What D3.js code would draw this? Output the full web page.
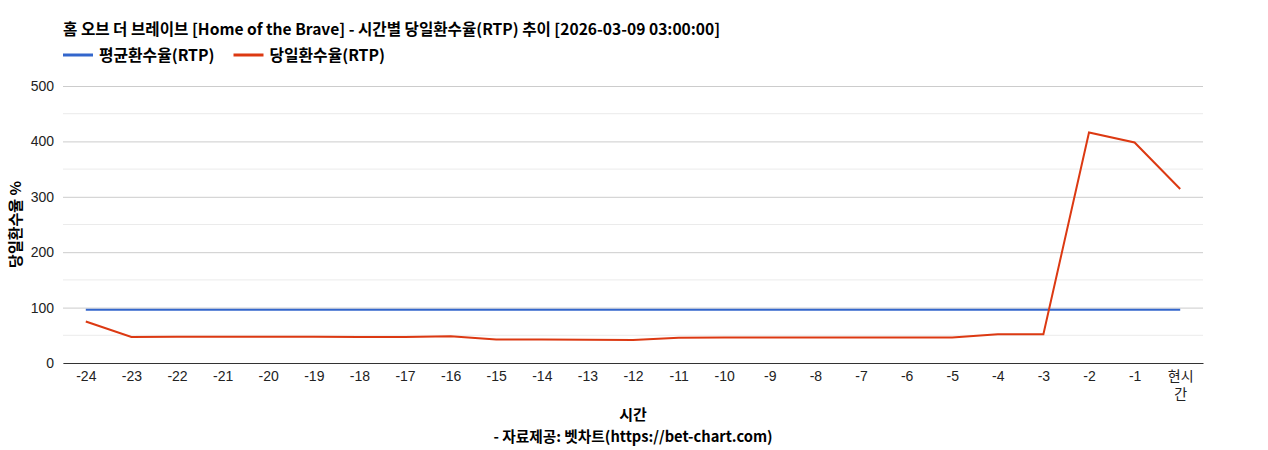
<!DOCTYPE html>
<html>
<head>
<meta charset="utf-8">
<script src="https://cdn.jsdelivr.net/npm/d3@7"></script>
<style>
  body { margin: 0; background: #fff; }
  svg text { font-family: "Liberation Sans", Arial, "Noto Sans CJK KR", sans-serif; }
  svg text.kr { font-family: "Noto Sans CJK KR", sans-serif; font-weight: bold; font-size: 15px; }
</style>
</head>
<body>
<div id="chart"></div>
<script>
const hours = ["-24","-23","-22","-21","-20","-19","-18","-17","-16","-15","-14","-13",
  "-12","-11","-10","-9","-8","-7","-6","-5","-4","-3","-2","-1","현시간"];
const avgRtp = [96,96,96,96,96,96,96,96,96,96,96,96,96,96,96,96,96,96,96,96,96,96,96,96,96];
const dayRtp = [75,47,47.5,47.5,47.5,47.5,47,47,48.5,42.5,42.5,42,41.5,45.5,46,46,46,46,46,46,52,52,416,398,314];
const yTicks = [0,100,200,300,400,500];
const seriesNames = ["평균환수율(RTP)", "당일환수율(RTP)"];
const colors = ["#3366cc", "#dc3912"];

const W = 1268, H = 450;
const margin = { top: 86, right: 65, bottom: 87, left: 63 };
const width = W - margin.left - margin.right;
const height = H - margin.top - margin.bottom;

const svg = d3.select("#chart").append("svg").attr("width", W).attr("height", H);

svg.append("text").attr("class", "kr")
  .attr("x", 63).attr("y", 35).style("font-size", "15.6px")
  .text("홈 오브 더 브레이브 [Home of the Brave] - 시간별 당일환수율(RTP) 추이 [2026-03-09 03:00:00]");

// legend
const legend = svg.append("g").attr("transform", "translate(63,55)");
let lx = 0;
seriesNames.forEach((name, i) => {
  const g = legend.append("g").attr("transform", `translate(${lx},0)`);
  g.append("line").attr("x1", 0).attr("x2", 30).attr("y1", 0).attr("y2", 0)
    .attr("stroke", colors[i]).attr("stroke-width", 3);
  const t = g.append("text").attr("class", "kr").attr("x", 36).attr("y", 5.5)
    .style("font-size", "15.8px").text(name);
  lx += 36 + t.node().getComputedTextLength() + 19;
});

const chart = svg.append("g").attr("transform", `translate(${margin.left},${margin.top})`);

const x = d3.scalePoint().domain(hours).range([0, width]).padding(0.5);
const y = d3.scaleLinear().domain([0, 500]).range([height, 0]);

// minor gridlines
chart.append("g").selectAll("line").data(d3.range(50, 500, 100)).join("line")
  .attr("x1", 0).attr("x2", width).attr("y1", d => y(d)).attr("y2", d => y(d))
  .attr("stroke", "#ebebeb").attr("stroke-width", 1);

// major gridlines + labels
const yAxis = chart.append("g")
  .call(d3.axisLeft(y).tickValues(yTicks).tickSize(-width).tickPadding(9));
yAxis.select(".domain").remove();
yAxis.selectAll(".tick line").attr("stroke", "#cccccc");
yAxis.selectAll(".tick text").style("font-size", "14px").attr("fill", "#222");

const xAxis = chart.append("g").attr("transform", `translate(0,${height})`)
  .call(d3.axisBottom(x).tickSize(0).tickPadding(8));
xAxis.select(".domain").attr("stroke", "#333");
xAxis.selectAll(".tick text").style("font-size", "14px").attr("fill", "#222")
  .each(function(d) {
    if (d === "현시간") {
      const t = d3.select(this).text(null);
      t.append("tspan").attr("x", 0).attr("dy", "0.71em").text("현시");
      t.append("tspan").attr("x", 0).attr("dy", "1.3em").text("간");
    }
  });

const line = d3.line().x((d, i) => x(hours[i])).y(d => y(d));
[avgRtp, dayRtp].forEach((s, i) => {
  chart.append("path").datum(s)
    .attr("fill", "none").attr("stroke", colors[i]).attr("stroke-width", 2)
    .attr("d", line);
});

// axis titles
svg.append("text").attr("class", "kr")
  .attr("transform", `translate(21,${margin.top + height / 2}) rotate(-90)`)
  .attr("text-anchor", "middle")
  .text("당일환수율 %");

svg.append("text").attr("class", "kr")
  .attr("x", margin.left + width / 2).attr("y", 420)
  .attr("text-anchor", "middle")
  .text("시간");

svg.append("text").attr("class", "kr")
  .attr("x", margin.left + width / 2).attr("y", 442)
  .attr("text-anchor", "middle").style("font-size", "14.7px")
  .text("- 자료제공: 벳차트(https://bet-chart.com)");
</script>
</body>
</html>
